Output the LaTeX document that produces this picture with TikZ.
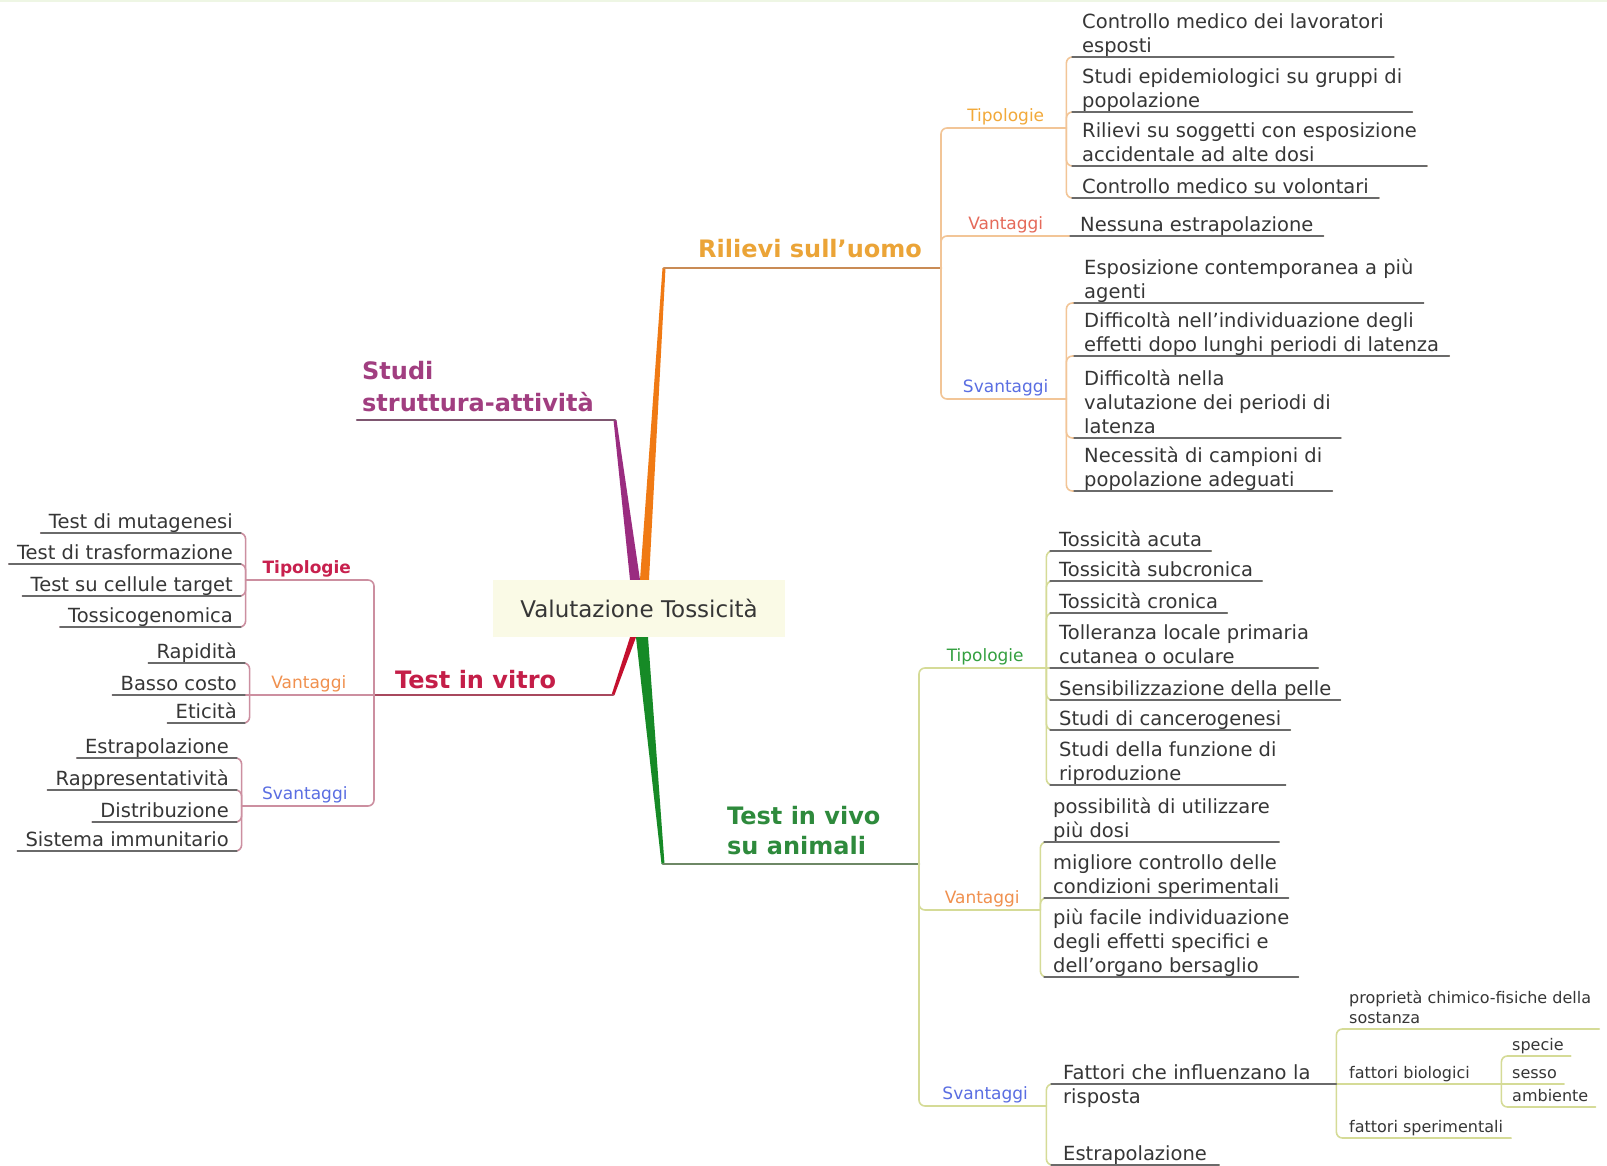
\documentclass[tikz,border=0pt]{standalone}
\usepackage{fontspec}
\setmainfont{DejaVu Sans}
\definecolor{txtc}{HTML}{363636}
\definecolor{ctrfill}{HTML}{FAFAE6}
\definecolor{topg}{HTML}{EEF6E4}
\definecolor{cOr}{HTML}{F07A14}
\definecolor{cPu}{HTML}{9A2C80}
\definecolor{cRe}{HTML}{C4102E}
\definecolor{cGr}{HTML}{168A26}
\definecolor{tRil}{HTML}{EBA437}
\definecolor{tStu}{HTML}{A13E80}
\definecolor{tVit}{HTML}{C41E48}
\definecolor{tViv}{HTML}{2E8A3C}
\definecolor{uRil}{HTML}{C98B55}
\definecolor{uStu}{HTML}{7E5670}
\definecolor{uVit}{HTML}{A8485E}
\definecolor{uViv}{HTML}{6E8866}
\definecolor{brRc}{HTML}{F2C597}
\definecolor{brVc}{HTML}{CC8FA0}
\definecolor{brAc}{HTML}{D5DB97}
\definecolor{ulc}{HTML}{6A6A6A}
\definecolor{sTipR}{HTML}{F2A93A}
\definecolor{sVanR}{HTML}{E56A5A}
\definecolor{sBlu}{HTML}{5A6EE2}
\definecolor{sTipV}{HTML}{C8204E}
\definecolor{sVanV}{HTML}{F0904E}
\definecolor{sTipA}{HTML}{34A040}
\tikzset{
  ctrbox/.style={fill=ctrfill, text=txtc, font=\fontsize{23}{28}\selectfont, minimum width=292pt, minimum height=57pt, inner sep=0pt},
  mainlbl/.style={font=\bfseries\fontsize{24}{29}\selectfont, inner sep=0pt},
  sublbl/.style={font=\fontsize{17}{20}\selectfont, inner xsep=2pt, inner ysep=1.5pt, text depth=5pt},
  leaf/.style={font=\fontsize{19.5}{24}\selectfont, text=txtc, align=left, inner xsep=10pt, inner ysep=0.5pt, text depth=4pt},
  leafL/.style={leaf, align=right, inner xsep=8pt, anchor=south east},
  small/.style={font=\fontsize{16}{20}\selectfont, text=txtc, align=left, inner xsep=8pt, inner ysep=0.5pt, text depth=4.5pt, anchor=south west},
  mainul/.style={line width=2.5pt},
  brR/.style={draw=brRc, line width=1.6pt, rounded corners=6pt},
  brV/.style={draw=brVc, line width=1.6pt, rounded corners=6pt},
  brA/.style={draw=brAc, line width=1.6pt, rounded corners=6pt},
  ulg/.style={draw=ulc, line width=1.3pt},
}
\begin{document}
\begin{tikzpicture}[x=1pt,y=-1pt,line cap=round,line join=round]
\useasboundingbox (0,0) rectangle (1607,1166);
\fill[white] (0,0) rectangle (1607,1166);
\fill[topg] (0,0) rectangle (1607,2.5);

% ---------- centre ----------
\node[ctrbox] (ctr) at (639,608.5) {Valutazione Tossicità};

% ---------- main labels ----------
\node[mainlbl, text=tRil, anchor=base west] (mR) at (698,258) {Rilievi sull'uomo};
\node[mainlbl, text=tStu, anchor=south west, align=left, text depth=0pt, font=\bfseries\fontsize{24}{32}\selectfont] (mS) at (362,412) {Studi\\struttura-attività};
\node[mainlbl, text=tVit, anchor=base west] (mV) at (395,688) {Test in vitro};
\node[mainlbl, text=tViv, anchor=south west, align=left, text depth=0pt, font=\bfseries\fontsize{24}{30}\selectfont] (mA) at (727,855) {Test in vivo\\su animali};

\coordinate (tR) at (664,268); \coordinate (eR) at (941,268);
\coordinate (tS) at (615,420); \coordinate (eS) at (357,420);
\coordinate (tV) at (613,695); \coordinate (eV) at (374,695);
\coordinate (tA) at (663,864); \coordinate (eA) at (919,864);

% ---------- main branches ----------
\fill[cPu] ([xshift=-9pt]ctr.north) -- ([xshift=1pt]ctr.north) -- ([xshift=1.5pt]tS) -- ([xshift=-1.5pt]tS) -- cycle;
\fill[cOr] ([xshift=1pt]ctr.north) -- ([xshift=10pt]ctr.north) -- ([xshift=1.5pt]tR) -- ([xshift=-1.5pt]tR) -- cycle;
\fill[cRe] ([xshift=-9pt]ctr.south) -- ([xshift=-3pt]ctr.south) -- ([xshift=1.5pt]tV) -- ([xshift=-1.5pt]tV) -- cycle;
\fill[cGr] ([xshift=-3pt]ctr.south) -- ([xshift=9pt]ctr.south) -- ([xshift=1.5pt]tA) -- ([xshift=-1.5pt]tA) -- cycle;
\draw[mainul, draw=uRil] (tR) -- (eR);
\draw[mainul, draw=uStu] (tS) -- (eS);
\draw[mainul, draw=uVit] (tV) -- (eV);
\draw[mainul, draw=uViv] (tA) -- (eA);

% ---------- Rilievi sull'uomo ----------
\node[sublbl, text=sTipR, anchor=south west, minimum width=121pt] (RT) at (945,128) {Tipologie};
\node[sublbl, text=sVanR, anchor=south west, minimum width=121pt] (RV) at (945,236) {Vantaggi};
\node[sublbl, text=sBlu, anchor=south west, minimum width=121pt] (RS) at (945,399) {Svantaggi};
\node[leaf, anchor=south west] (R1) at (1072,57) {Controllo medico dei lavoratori\\esposti};
\node[leaf, anchor=south west] (R2) at (1072,112) {Studi epidemiologici su gruppi di\\popolazione};
\node[leaf, anchor=south west] (R3) at (1072,166) {Rilievi su soggetti con esposizione\\accidentale ad alte dosi};
\node[leaf, anchor=south west] (R4) at (1072,198) {Controllo medico su volontari};
\node[leaf, anchor=south west] (R5) at (1070,236) {Nessuna estrapolazione};
\node[leaf, anchor=south west] (R6) at (1074,303) {Esposizione contemporanea a più\\agenti};
\node[leaf, anchor=south west] (R7) at (1074,356) {Difficoltà nell'individuazione degli\\effetti dopo lunghi periodi di latenza};
\node[leaf, anchor=south west] (R8) at (1074,438) {Difficoltà nella\\valutazione dei periodi di\\latenza};
\node[leaf, anchor=south west] (R9) at (1074,491) {Necessità di campioni di\\popolazione adeguati};

\draw[brR] (eR) |- (RT.south east);
\draw[brR] (eR) |- (RV.south east);
\draw[brR] (eR) |- (RS.south east);
\foreach \c in {R1,R2,R3,R4} \draw[brR] (RT.south east) |- (\c.south east);
\draw[brR] (RV.south east) -- (R5.south east);
\foreach \c in {R6,R7,R8,R9} \draw[brR] (RS.south east) |- (\c.south east);
\foreach \c in {R1,R2,R3,R4,R5,R6,R7,R8,R9} \draw[ulg] (\c.south west) -- (\c.south east);

% ---------- Test in vitro ----------
\node[sublbl, text=sTipV, font=\bfseries\fontsize{17}{20}\selectfont, anchor=south east, minimum width=122pt] (VT) at (368,580) {Tipologie};
\node[sublbl, text=sVanV, anchor=south east, minimum width=118pt] (VV) at (368,695) {Vantaggi};
\node[sublbl, text=sBlu, anchor=south east, minimum width=126pt] (VS) at (368,806) {Svantaggi};
\node[leafL] (C1) at (241,533) {Test di mutagenesi};
\node[leafL] (C2) at (241,564) {Test di trasformazione};
\node[leafL] (C3) at (241,596) {Test su cellule target};
\node[leafL] (C4) at (241,627) {Tossicogenomica};
\node[leafL] (C5) at (245,663) {Rapidità};
\node[leafL] (C6) at (245,695) {Basso costo};
\node[leafL] (C7) at (245,723) {Eticità};
\node[leafL] (C8) at (237,758) {Estrapolazione};
\node[leafL] (C9) at (237,790) {Rappresentatività};
\node[leafL] (C10) at (237,822) {Distribuzione};
\node[leafL] (C11) at (237,851) {Sistema immunitario};

\draw[brV] (eV) |- (VT.south west);
\draw[brV] (eV) -- (VV.south west);
\draw[brV] (eV) |- (VS.south west);
\foreach \c in {C1,C2,C3,C4} \draw[brV] (VT.south west) |- (\c.south west);
\draw[brV] (VV.south west) |- (C5.south west);
\draw[brV] (VV.south west) -- (C6.south west);
\draw[brV] (VV.south west) |- (C7.south west);
\foreach \c in {C8,C9,C10,C11} \draw[brV] (VS.south west) |- (\c.south west);
\foreach \c in {C1,C2,C3,C4,C5,C6,C7,C8,C9,C10,C11} \draw[ulg] (\c.south west) -- (\c.south east);

% ---------- Test in vivo su animali ----------
\node[sublbl, text=sTipA, anchor=south west, minimum width=122pt] (AT) at (924,668) {Tipologie};
\node[sublbl, text=sVanV, anchor=south west, minimum width=116pt] (AV) at (924,910) {Vantaggi};
\node[sublbl, text=sBlu, anchor=south west, minimum width=122pt] (AS) at (924,1106) {Svantaggi};
\node[leaf, anchor=south west, inner xsep=9pt] (T1) at (1050,551) {Tossicità acuta};
\node[leaf, anchor=south west, inner xsep=9pt] (T2) at (1050,581) {Tossicità subcronica};
\node[leaf, anchor=south west, inner xsep=9pt] (T3) at (1050,613) {Tossicità cronica};
\node[leaf, anchor=south west, inner xsep=9pt] (T4) at (1050,668) {Tolleranza locale primaria\\cutanea o oculare};
\node[leaf, anchor=south west, inner xsep=9pt] (T5) at (1050,700) {Sensibilizzazione della pelle};
\node[leaf, anchor=south west, inner xsep=9pt] (T6) at (1050,730) {Studi di cancerogenesi};
\node[leaf, anchor=south west, inner xsep=9pt] (T7) at (1050,785) {Studi della funzione di\\riproduzione};
\node[leaf, anchor=south west, inner xsep=9pt] (V1) at (1044,842) {possibilità di utilizzare\\più dosi};
\node[leaf, anchor=south west, inner xsep=9pt] (V2) at (1044,898) {migliore controllo delle\\condizioni sperimentali};
\node[leaf, anchor=south west, inner xsep=9pt] (V3) at (1044,977) {più facile individuazione\\degli effetti specifici e\\dell'organo bersaglio};
\node[leaf, anchor=south west, inner xsep=12pt, text width=261pt] (S1) at (1051,1084) {Fattori che influenzano la\\risposta};
\node[leaf, anchor=south west, inner xsep=12pt] (S2) at (1051,1165) {Estrapolazione};
\node[small] (P1) at (1341,1029) {proprietà chimico-fisiche della\\sostanza};
\node[small, text width=144pt] (P2) at (1341,1084) {fattori biologici};
\node[small] (P3) at (1341,1138) {fattori sperimentali};
\node[small, inner xsep=7pt] (Q1) at (1505,1056) {specie};
\node[small, inner xsep=7pt] (Q2) at (1505,1084) {sesso};
\node[small, inner xsep=7pt] (Q3) at (1505,1107) {ambiente};

\draw[brA] (eA) |- (AT.south east);
\draw[brA] (eA) |- (AV.south east);
\draw[brA] (eA) |- (AS.south east);
\foreach \c in {T1,T2,T3,T5,T6,T7} \draw[brA] (AT.south east) |- (\c.south east);
\draw[brA] (AT.south east) -- (T4.south east);
\foreach \c in {V1,V2,V3} \draw[brA] (AV.south east) |- (\c.south east);
\foreach \c in {S1,S2} \draw[brA] (AS.south east) |- (\c.south east);
\draw[brA] (S1.south east) |- (P1.south east);
\draw[brA] (S1.south east) -- (P2.south east);
\draw[brA] (S1.south east) |- (P3.south east);
\draw[brA] (P2.south east) |- (Q1.south east);
\draw[brA] (P2.south east) -- (Q2.south east);
\draw[brA] (P2.south east) |- (Q3.south east);
\foreach \c in {T1,T2,T3,T4,T5,T6,T7,V1,V2,V3,S1,S2} \draw[ulg] (\c.south west) -- (\c.south east);
\end{tikzpicture}
\end{document}
